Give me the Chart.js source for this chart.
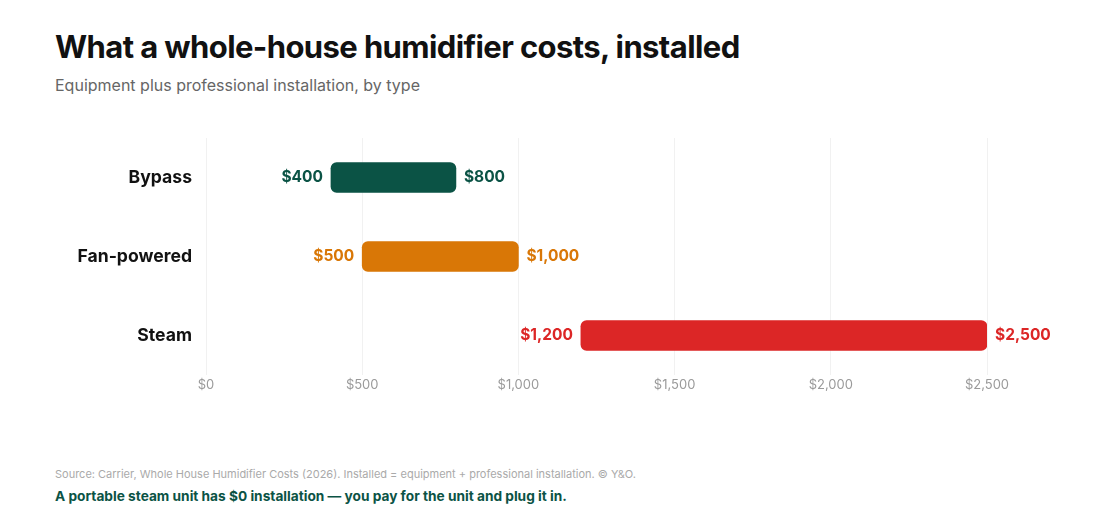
<!DOCTYPE html>
<html>
<head>
<meta charset="utf-8">
<script src="https://cdn.jsdelivr.net/npm/chart.js@4.4.1/dist/chart.umd.min.js"></script>
<style>
  html, body { margin: 0; padding: 0; background: #fff; }
  body { width: 1100px; height: 523px; position: relative; font-family: Inter, "Noto Sans", sans-serif; overflow: hidden; }
  .title { position: absolute; left: 55px; top: 28px; font-size: 31px; font-weight: 700; color: #111; letter-spacing: -0.6px; white-space: nowrap; }
  .subtitle { position: absolute; left: 55px; top: 75px; font-size: 16px; color: #666; white-space: nowrap; }
  .chart-box { position: absolute; left: 0; top: 120px; width: 1100px; height: 285px; }
  .source { position: absolute; left: 55px; top: 467px; font-size: 11px; color: #aaa; white-space: nowrap; }
  .note { position: absolute; left: 55px; top: 488px; font-size: 13.7px; font-weight: 700; color: #0b5345; white-space: nowrap; }
</style>
</head>
<body>
<div class="title">What a whole-house humidifier costs, installed</div>
<div class="subtitle">Equipment plus professional installation, by type</div>
<div class="chart-box"><canvas id="myChart"></canvas></div>
<div class="source">Source: Carrier, Whole House Humidifier Costs (2026). Installed = equipment + professional installation. © Y&amp;O.</div>
<div class="note">A portable steam unit has $0 installation — you pay for the unit and plug it in.</div>

<script>
// Dados
const types = ["Bypass", "Fan-powered", "Steam"];
const lowCost = [400, 500, 1200];
const highCost = [800, 1000, 2500];
const barColors = ["#0b5345", "#d97706", "#dc2626"];
const xTicks = [0, 500, 1000, 1500, 2000, 2500];

function money(v) {
  return "$" + v.toLocaleString("en-US");
}

// Rótulos de valor nas pontas das barras
const endLabels = {
  id: "endLabels",
  afterDatasetsDraw(chart) {
    const ctx = chart.ctx;
    const meta = chart.getDatasetMeta(0);
    ctx.save();
    ctx.font = "700 15.5px Inter, sans-serif";
    ctx.textBaseline = "middle";
    meta.data.forEach((bar, i) => {
      const left = Math.min(bar.x, bar.base);
      const right = Math.max(bar.x, bar.base);
      ctx.fillStyle = barColors[i];
      ctx.textAlign = "right";
      ctx.fillText(money(lowCost[i]), left - 8, bar.y);
      ctx.textAlign = "left";
      ctx.fillText(money(highCost[i]), right + 8, bar.y);
    });
    ctx.restore();
  },
};

const config = {
  type: "bar",
  data: {
    labels: types,
    datasets: [
      {
        data: types.map((t, i) => [lowCost[i], highCost[i]]),
        backgroundColor: barColors,
        borderRadius: 6,
        borderSkipped: false,
        barThickness: 30,
      },
    ],
  },
  options: {
    indexAxis: "y",
    responsive: true,
    maintainAspectRatio: false,
    animation: false,
    layout: { padding: { top: 18, right: 113, left: 0, bottom: 0 } },
    plugins: {
      legend: { display: false },
      tooltip: { enabled: false },
    },
    scales: {
      x: {
        min: 0,
        max: 2500,
        afterBuildTicks: (scale) => {
          scale.ticks = xTicks.map((v) => ({ value: v }));
        },
        afterFit: (scale) => {
          scale.height = 30;
        },
        grid: { color: "#f1f1f1", drawTicks: false },
        border: { display: false },
        ticks: {
          padding: 2,
          color: "#9a9a9a",
          font: { family: "Inter", size: 13 },
          callback: (v) => money(v),
        },
      },
      y: {
        afterFit: (scale) => {
          scale.width = 206;
          scale.paddingTop = 0;
          scale.paddingBottom = 0;
        },
        grid: { display: false, drawTicks: false },
        border: { display: false },
        ticks: {
          padding: 14,
          color: "#111",
          font: { family: "Inter", size: 17.6, weight: "700" },
        },
      },
    },
  },
  plugins: [endLabels],
};

window.onload = function () {
  const ctx = document.getElementById("myChart").getContext("2d");
  new Chart(ctx, config);
};
</script>
</body>
</html>
